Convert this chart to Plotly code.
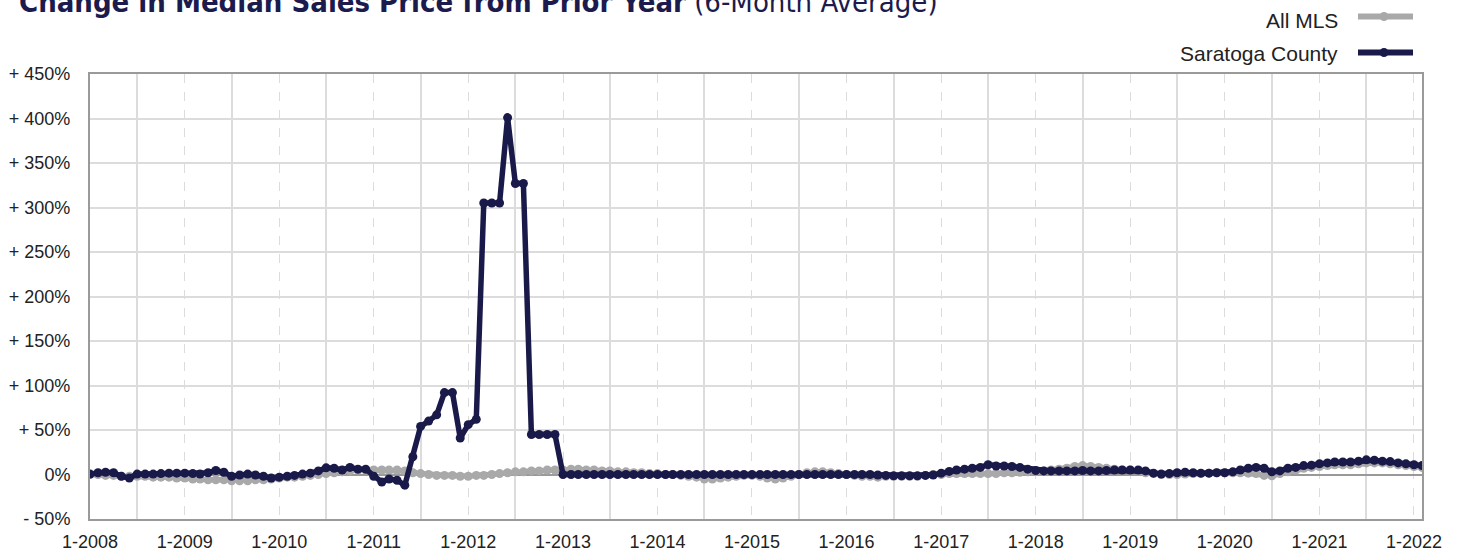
import pandas as pd
import plotly.graph_objects as go

# ---- data ----
start_month = "2008-01-01"
n_months = 170
months = pd.date_range(start_month, periods=n_months, freq="MS")

saratoga = [
    0.5, 2, 2.5, 2, -2, -4, 0.5, 0.5, 0.5, 1, 1.5, 1.5,
    1.5, 1, 0.5, 2, 4.5, 2.5, -2, -0.5, 0.5, -0.5, -2, -4,
    -3, -2, -1, 0.5, 1.5, 4, 7.5, 7, 5, 8, 6, 6,
    -2, -8.5, -5, -6.5, -12, 20, 54, 60, 67, 92, 92, 41,
    56, 62, 305, 305, 305, 401, 327, 327, 45, 45, 45, 45,
    0, 0, 0, 0, 0, 0, 0, 0, 0, 0, 0, 0,
    0, 0, 0, 0, 0, 0, 0, 0, 0, 0, 0, 0,
    0, 0, 0, 0, 0, 0, 0, 0, 0, 0, 0, 0,
    0, 0, 0, 0, -0.5, -1, -1.5, -1.5, -1.5, -1.5, -1, -0.5,
    1.5, 3.5, 5, 6, 7, 8, 11, 9.5, 9.5, 9, 8, 6,
    4.5, 4, 4, 4, 4, 4, 4.5, 4, 4, 4.5, 5, 5,
    5, 5, 4, 1.5, 0.5, 1, 2, 2.5, 2, 1.5, 1.5, 2,
    2, 3, 5, 7, 8, 7, 3, 4, 7, 8, 10, 10.5,
    12, 13, 14, 14, 14, 15, 16.5, 16, 15, 14.5, 13, 12,
    11, 10,
]

all_mls = [
    0, 0, -1, -1, -2, -2, -2, -2, -3, -3, -3, -4,
    -4, -5, -5, -6, -6, -6, -7, -7, -7, -6, -6, -5,
    -4, -3, -3, -2, -1, 0, 1, 2, 3, 4, 5, 5,
    5, 5, 5, 5, 4, 2, 1, 0, -1, -1, -1, -2,
    -2, -1, -1, 0, 1, 2, 3, 3, 4, 4, 5, 5,
    5, 6, 6, 5, 5, 4, 4, 3, 3, 2, 2, 1,
    1, 0, 0, -1, -2, -3, -5, -5, -4, -3, -2, -1,
    -1, -2, -4, -5, -4, -2, 0, 2, 3, 3, 2, 1,
    0, -1, -2, -2, -3, -2, -2, -2, -2, -2, -1, 0,
    0, 1, 1, 1, 1, 1, 1, 1, 2, 2, 2.5, 3,
    3.5, 4, 5, 6, 7, 9, 10, 9, 8, 7, 6, 5,
    5, 4, 2, 1, 0, 0, 0, 0.5, 1, 1, 1.5, 2,
    2, 2, 2, 1.5, 1, -1, -1.5, 1, 3, 5, 7, 8,
    9, 10, 11, 11, 11, 12, 13, 13, 13, 12, 11, 10,
    9, 8,
]

years = list(range(2008, 2023))
year_labels = [f"1-{y}" for y in years]
y_ticks = [-50, 0, 50, 100, 150, 200, 250, 300, 350, 400, 450]
y_tick_labels = ["- 50%", "0%", "+ 50%", "+ 100%", "+ 150%", "+ 200%",
                 "+ 250%", "+ 300%", "+ 350%", "+ 400%", "+ 450%"]
series_names = ["All MLS", "Saratoga County"]
series_colors = ["#a9a9a9", "#1a1a4a"]

# ---- figure ----
W, H = 1459, 551
ML, MR, MT, MB = 90, 37, 74, 32
PW, PH = W - ML - MR, H - MT - MB

def px_x(px):
    return (px - ML) / PW

def px_y(py):
    return (H - MB - py) / PH

fig = go.Figure()
for name, vals, col in [(series_names[0], all_mls, series_colors[0]),
                        (series_names[1], saratoga, series_colors[1])]:
    fig.add_trace(go.Scatter(
        x=months, y=vals, name=name, mode="lines+markers",
        line=dict(color=col, width=5.5),
        marker=dict(color=col, size=9),
        showlegend=False, hoverinfo="skip",
    ))

tick_dates = [pd.Timestamp(f"{y}-01-01") for y in years]
minor_dates = [pd.Timestamp(f"{y}-07-01") for y in years[:-1]]

fig.update_xaxes(
    range=[months[0], months[-1]], automargin=False,
    tickmode="array", tickvals=tick_dates, ticktext=year_labels,
    showgrid=True, gridcolor="#dcdcdc", gridwidth=1, griddash="dash",
    minor=dict(tickmode="array", tickvals=minor_dates, showgrid=True,
               gridcolor="#dcdcdc", gridwidth=1.5, griddash="solid"),
    showline=True, linecolor="#9a9a9a", linewidth=2, mirror=True,
    ticks="", tickfont=dict(family="Liberation Sans, Arial, sans-serif", size=18, color="#222"),
    ticklabelstandoff=5,
)
fig.update_yaxes(
    range=[-50, 450], automargin=False,
    tickmode="array", tickvals=y_ticks, ticktext=y_tick_labels,
    showgrid=True, gridcolor="#dcdcdc", gridwidth=1.5,
    zeroline=True, zerolinecolor="#999999", zerolinewidth=2,
    showline=True, linecolor="#9a9a9a", linewidth=2, mirror=True,
    ticks="", tickfont=dict(family="Liberation Sans, Arial, sans-serif", size=18, color="#222"),
    ticklabelstandoff=14,
)

annotations = [
    dict(xref="paper", yref="paper", x=px_x(17), y=px_y(2), xanchor="left", yanchor="middle",
         text="<b>Change in Median Sales Price from Prior Year</b> (6-Month Average)",
         showarrow=False,
         font=dict(family="DejaVu Sans Condensed, sans-serif", size=29, color="#1b1b4e")),
]
shapes = []
leg_y_text = [20, 54]
leg_y_line = [16.5, 52.5]
for name, col, yt, yl in zip(series_names, series_colors, leg_y_text, leg_y_line):
    annotations.append(dict(xref="paper", yref="paper", x=px_x(1340), y=px_y(yt),
                            xanchor="right", yanchor="middle", text=name, showarrow=False,
                            font=dict(family="Liberation Sans, Arial, sans-serif", size=21, color="#222")))
    shapes.append(dict(type="line", xref="paper", yref="paper",
                       x0=px_x(1358), x1=px_x(1413), y0=px_y(yl), y1=px_y(yl),
                       line=dict(color=col, width=6)))
    shapes.append(dict(type="circle", xref="paper", yref="paper",
                       x0=px_x(1384 - 4.5), x1=px_x(1384 + 4.5),
                       y0=px_y(yl - 4.5), y1=px_y(yl + 4.5),
                       fillcolor=col, line=dict(color=col, width=0)))

fig.update_layout(
    width=W, height=H,
    margin=dict(l=ML, r=MR, t=MT, b=MB),
    paper_bgcolor="white", plot_bgcolor="white",
    showlegend=False, hovermode=False,
    annotations=annotations, shapes=shapes,
)

fig.write_html("out.html", config={"displayModeBar": False},
               post_script="document.body.style.margin='0';")
